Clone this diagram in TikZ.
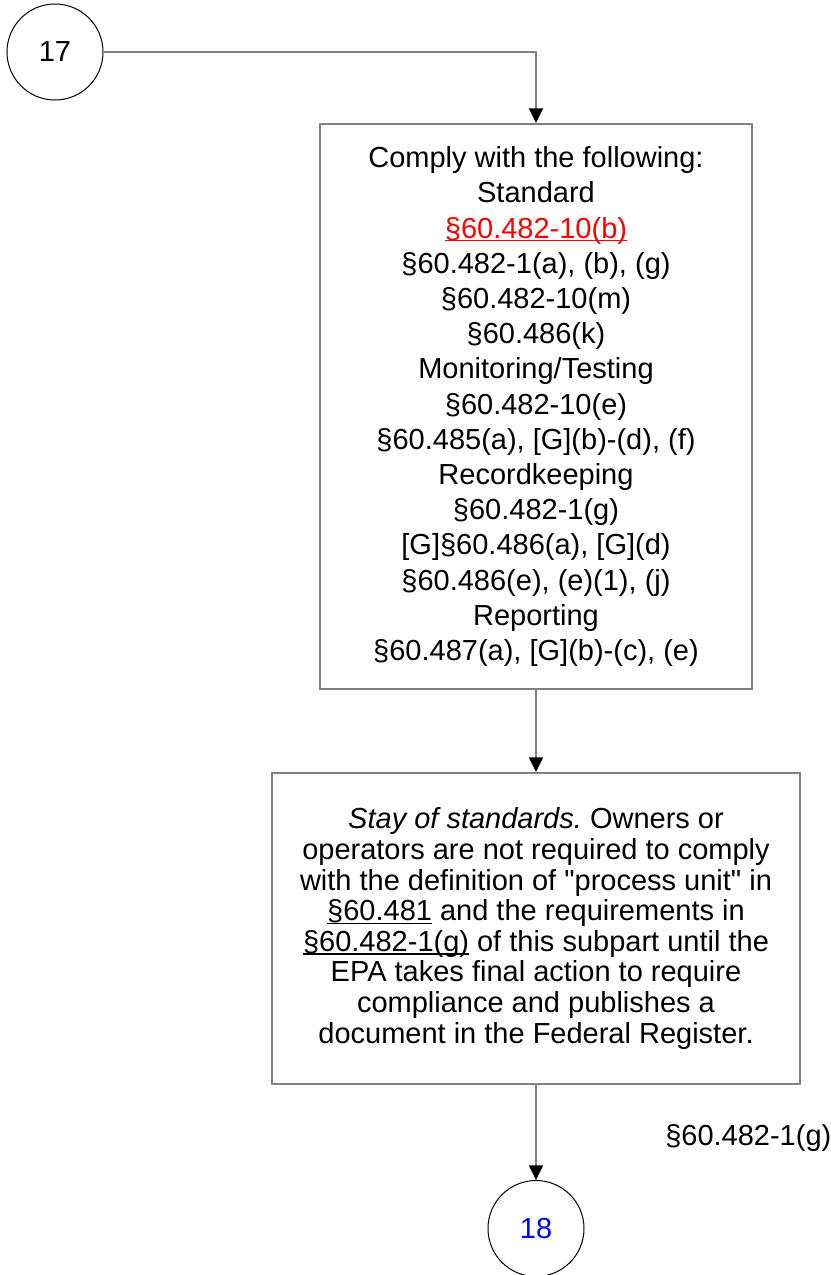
\documentclass[tikz,border=0pt]{standalone}
\usepackage{fontspec}
\setmainfont{Liberation Sans}
\usepackage{xcolor}
\usepackage{tikz}
\usetikzlibrary{arrows.meta, positioning}
\definecolor{linegray}{RGB}{128, 128, 128}
\definecolor{linkred}{RGB}{255, 0, 0}
\definecolor{pageblue}{RGB}{0, 0, 255}
\newcommand{\bigtext}{\fontsize{21.75pt}{26.4pt}\selectfont}
\newcommand{\refline}[1]{\setbox0\hbox{#1}\rlap{\rule[-2.6pt]{\wd0}{1pt}}\box0\relax}
\frenchspacing

\begin{document}
\begin{tikzpicture}[x=0.75pt, y=-0.75pt,
    refbox/.style={draw=linegray, line width=1.5pt, align=center, inner sep=0pt, font=\bigtext},
    pagecirc/.style={draw=black, circle, line width=0.75pt, minimum size=72pt, inner sep=0pt, font=\bigtext},
    conn/.style={draw=linegray, line width=1.5pt, -{Triangle[length=11pt, width=10.5pt, color=black]}}]
        \useasboundingbox (0,0) rectangle (831,1275);

        % Off-page connectors
        \node[pagecirc] (c17) at (55,52) {17};
        \node[pagecirc, text=pageblue] (c18) at (536,1228.5) {18};

        % Requirement boxes
        \node[refbox, minimum width=324pt, minimum height=423.75pt] (comply) at (536,406.5)
          {Comply with the following:\\
           Standard\\
           \textcolor{linkred}{\refline{§60.482-10(b)}}\\
           §60.482-1(a), (b), (g)\\
           §60.482-10(m)\\
           §60.486(k)\\
           Monitoring/Testing\\
           §60.482-10(e)\\
           §60.485(a), [G](b)-(d), (f)\\
           Recordkeeping\\
           §60.482-1(g)\\
           {[G]}§60.486(a), [G](d)\\
           §60.486(e), (e)(1), (j)\\
           Reporting\\
           §60.487(a), [G](b)-(c), (e)};
        \node[refbox, minimum width=396pt, minimum height=233.25pt,
              font=\fontsize{21.75pt}{22.95pt}\selectfont] (stay) at (536,928.5)
          {\textit{Stay of standards.} Owners or\\
           operators are not required to comply\\
           with the definition of \textquotedbl process unit\textquotedbl{} in\\
           \refline{§60.481} and the requirements in\\
           \refline{§60.482-1(g)} of this subpart until the\\
           EPA takes final action to require\\
           compliance and publishes a\\
           document in the Federal Register.};

        % Side reference
        \node[font=\bigtext, anchor=base west, inner sep=0pt] (sideref) at (665,1145) {§60.482-1(g)};

        % Flow
        \draw[conn] (c17.east) -| (comply.north);
        \draw[conn] (comply.south) -- (stay.north);
        \draw[conn] (stay.south) -- (c18.north);
      \end{tikzpicture}
\end{document}
